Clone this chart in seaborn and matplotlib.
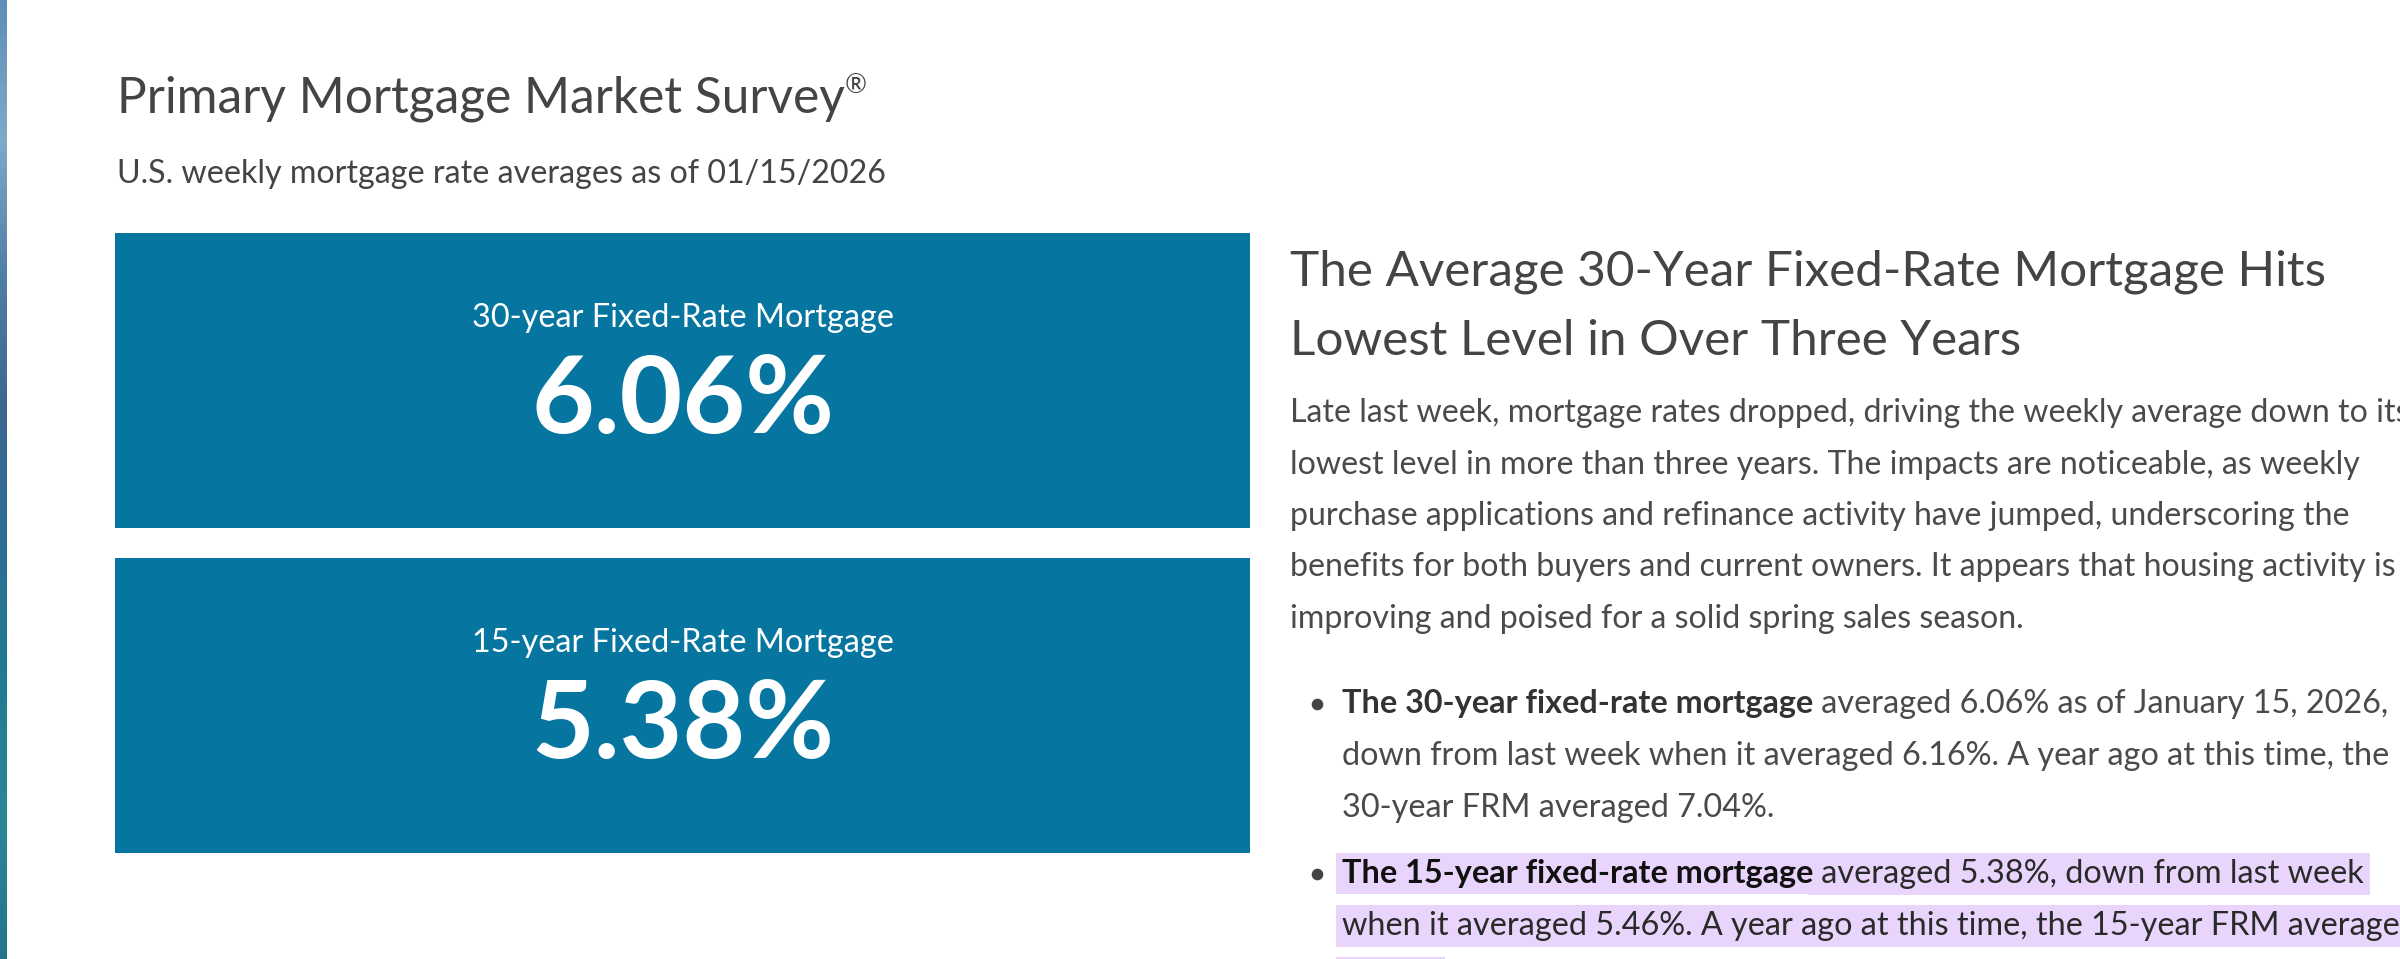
import matplotlib.pyplot as plt
import numpy as np
import pandas as pd
import seaborn as sns
from matplotlib.colors import LinearSegmentedColormap

sns.set_theme(style="white")
plt.rcParams["font.family"] = ["Lato", "DejaVu Sans"]

# page content
survey_title = "Primary Mortgage Market Survey"
survey_subtitle = "U.S. weekly mortgage rate averages as of 01/15/2026"
rate_labels = ["30-year Fixed-Rate Mortgage", "15-year Fixed-Rate Mortgage"]
rate_values = [6.06, 5.38]
headline = ["The Average 30-Year Fixed-Rate Mortgage Hits",
            "Lowest Level in Over Three Years"]
paragraph = [
    "Late last week, mortgage rates dropped, driving the weekly average down to its",
    "lowest level in more than three years. The impacts are noticeable, as weekly",
    "purchase applications and refinance activity have jumped, underscoring the",
    "benefits for both buyers and current owners. It appears that housing activity is",
    "improving and poised for a solid spring sales season.",
]
bullet_30 = [("The 30-year fixed-rate mortgage", " averaged 6.06% as of January 15, 2026,"),
             ("", "down from last week when it averaged 6.16%. A year ago at this time, the"),
             ("", "30-year FRM averaged 7.04%.")]
bullet_15 = [("The 15-year fixed-rate mortgage", " averaged 5.38%, down from last week"),
             ("", "when it averaged 5.46%. A year ago at this time, the 15-year FRM averaged"),
             ("", "6.27%.")]
strip_colors = ["#5d8fb8", "#7fa9c9", "#4f7ea6", "#3b6690", "#2c6f93", "#1f7b92", "#2b8796", "#23758e"]

box_blue = "#0676a1"
text_grey = "#444444"
body_grey = "#4a4a4a"
highlight = "#e9d5fc"

fig = plt.figure(figsize=(24, 9.59), dpi=100)
bg = fig.add_axes([0, 0, 1, 1])
bg.axis("off")

# photo edge on the left
strip = LinearSegmentedColormap.from_list("strip", strip_colors)
bg.imshow(np.linspace(0, 1, 200).reshape(-1, 1), cmap=strip, aspect="auto",
          extent=(0, 7, 959, 0))
bg.set_xlim(0, 2400)
bg.set_ylim(959, 0)

# header
title = bg.text(117, 113, survey_title, fontsize=35.7, color=text_grey, va="baseline")
bg.annotate("®", xy=(1, 93), xycoords=(title, "data"), fontsize=19,
            color=text_grey, va="baseline", ha="left")
bg.text(117, 183, survey_subtitle, fontsize=23.2, color=text_grey, va="baseline")

# rate tiles
w = 0.908
df = pd.DataFrame({"label": rate_labels, "rate": rate_values, "span": [1, 1]})
ax = fig.add_axes([115 / 2400, (959 - 853) / 959, 1135 / 2400, 620 / 959])
sns.barplot(data=df, x="span", y="label", width=w, color=box_blue,
            saturation=1, linewidth=0, ax=ax)
ax.set_xlim(0, 1)
ax.set_ylim(1 + w / 2, -w / 2)
ax.axis("off")
for i, row in df.iterrows():
    ax.text(0.5, i - 0.165, row["label"], ha="center", va="baseline",
            color="white", fontsize=23.3)
    ax.text(0.5, i + 0.162, f"{row['rate']:.2f}%", ha="center", va="baseline",
            color="white", fontsize=78, fontweight="bold")

# right column
for i, line in enumerate(headline):
    bg.text(1290, 286 + 69 * i, line, fontsize=35.6, color=text_grey, va="baseline")
for i, line in enumerate(paragraph):
    bg.text(1290, 422 + 51.5 * i, line, fontsize=23.1, color=body_grey, va="baseline")


def bullet(lines, y0, bold_color, rest_color, hl=None):
    kw = dict(fontsize=23.3, va="baseline", ha="left")
    if hl:
        kw["bbox"] = dict(facecolor=hl, edgecolor="none", pad=4)
    bg.scatter([1317], [y0 - 9], s=70, color=text_grey, linewidths=0)
    for k, (bold, rest) in enumerate(lines):
        y = y0 + 52 * k
        if bold:
            t = bg.text(1342, y, bold, fontweight="bold", color=bold_color,
                        zorder=4, **kw)
            bg.annotate(rest, xy=(1, y), xycoords=(t, "data"), color=rest_color,
                        zorder=3, **kw)
        else:
            bg.text(1342, y, rest, color=rest_color, **kw)


bullet(bullet_30, 713, "#333333", body_grey)
bullet(bullet_15, 883, "#111111", "#2a2a2a", hl=highlight)

fig.savefig("out.png", dpi=100)
